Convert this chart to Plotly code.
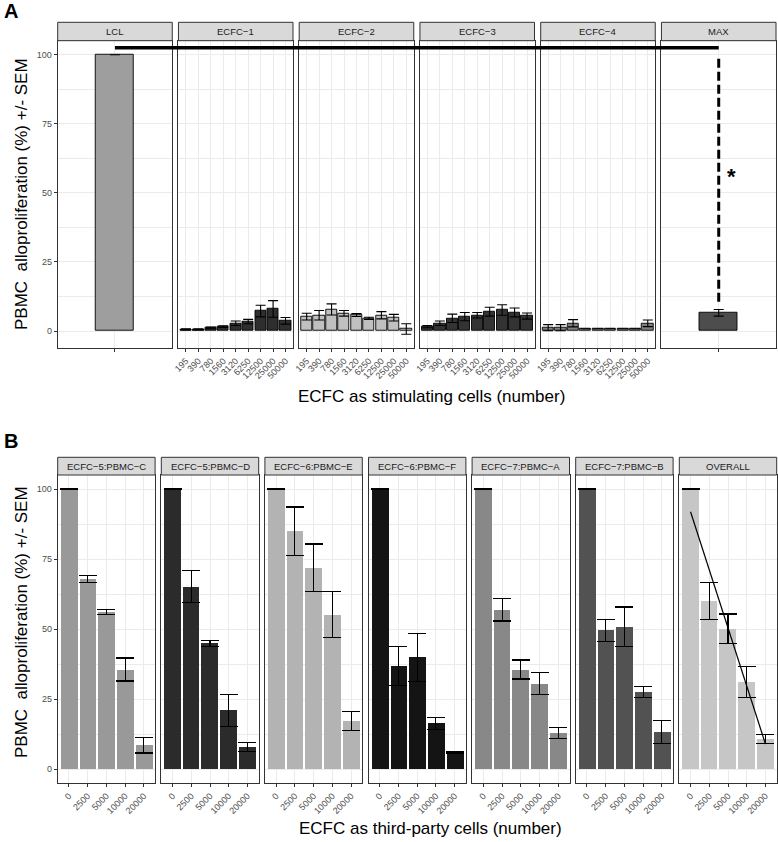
import numpy as np
import plotly.graph_objects as go

# ---------------- DATA ----------------
# Panel A
a_facets = ["LCL", "ECFC−1", "ECFC−2", "ECFC−3", "ECFC−4", "MAX"]
a_doses = ["195", "390", "780", "1560", "3120", "6250", "12500", "25000", "50000"]
lcl_mean = [100.0]
lcl_sem = [0.0]
ecfc1_mean = [0.6, 0.6, 1.1, 1.6, 2.8, 3.4, 7.2, 8.0, 3.7]
ecfc1_sem = [0.2, 0.2, 0.3, 0.3, 0.8, 0.8, 2.1, 3.0, 1.2]
ecfc2_mean = [5.2, 5.7, 7.8, 6.4, 5.8, 4.6, 5.7, 4.8, 0.7]
ecfc2_sem = [1.2, 1.7, 2.0, 1.0, 0.5, 0.4, 1.3, 1.2, 1.9]
ecfc3_mean = [1.6, 2.8, 4.6, 5.2, 5.7, 7.0, 7.6, 6.7, 5.4]
ecfc3_sem = [0.4, 0.8, 1.5, 1.5, 1.0, 1.6, 1.9, 1.6, 1.1]
ecfc4_mean = [1.2, 1.2, 2.8, 0.8, 0.8, 0.8, 0.8, 0.8, 2.8]
ecfc4_sem = [1.1, 1.1, 1.3, 0.0, 0.0, 0.0, 0.0, 0.0, 1.2]
max_mean = [6.6]
max_sem = [1.2]
a_colors = ["#9e9e9e", "#2e2e2e", "#c0c0c0", "#333333", "#7f7f7f", "#4d4d4d"]

# significance annotation (panel A)
sig_bar_y = 102.5
sig_dash_top = 98.5
sig_dash_bottom = 10.0
sig_star_y = 55.8
sig_label = "*"

# Panel B
b_facets = ["ECFC−5:PBMC−C", "ECFC−5:PBMC−D", "ECFC−6:PBMC−E", "ECFC−6:PBMC−F",
            "ECFC−7:PBMC−A", "ECFC−7:PBMC−B", "OVERALL"]
b_doses = ["0", "2500", "5000", "10000", "20000"]
c5c_mean = [100.0, 67.8, 56.2, 35.6, 8.6]
c5c_sem = [0.0, 1.2, 0.9, 4.1, 2.8]
c5d_mean = [100.0, 65.2, 44.9, 21.0, 7.9]
c5d_sem = [0.0, 5.8, 1.1, 5.6, 1.5]
c6e_mean = [100.0, 84.9, 71.9, 55.2, 17.2]
c6e_sem = [0.0, 8.7, 8.5, 8.3, 3.4]
c6f_mean = [100.0, 36.9, 39.9, 16.4, 6.1]
c6f_sem = [0.0, 7.0, 8.6, 2.2, 0.3]
c7a_mean = [100.0, 56.9, 35.6, 30.6, 13.0]
c7a_sem = [0.0, 4.0, 3.4, 3.9, 2.0]
c7b_mean = [100.0, 49.6, 50.9, 27.6, 13.3]
c7b_sem = [0.0, 4.0, 7.0, 2.0, 4.1]
overall_mean = [100.0, 60.1, 50.1, 31.1, 10.9]
overall_sem = [0.0, 6.7, 5.3, 5.5, 1.6]
b_colors = ["#999999", "#2b2b2b", "#b3b3b3", "#141414", "#888888", "#525252", "#c6c6c6"]

y_ticks = [0, 25, 50, 75, 100]
y_minor = [12.5, 37.5, 62.5, 87.5]

y_title = "PBMC  alloproliferation (%) +/- SEM"
a_xtitle = "ECFC as stimulating cells (number)"
b_xtitle = "ECFC as third-party cells (number)"

# ---------------- LAYOUT GEOMETRY ----------------
W, H = 778, 842
FONT = "Liberation Sans, Arial, Helvetica, sans-serif"


def fx(p):
    return p / W


def fy(p):
    return 1 - p / H


def panel_x(left, right, n, gap):
    w = (right - left - (n - 1) * gap) / n
    return [(left + i * (w + gap), left + i * (w + gap) + w) for i in range(n)]


A_px = panel_x(57.7, 776.0, 6, 6.2)
B_px = panel_x(57.7, 776.7, 7, 6.2)
A_top, A_bot, A_strip = 40.7, 348.3, 22.3
B_top, B_bot, B_strip = 475.0, 783.3, 457.3

A_yrange = [-6.26, 105.06]
B_yrange = [-5.0, 105.0]

fig = go.Figure()
layout = dict(
    template="none",
    width=W, height=H,
    margin=dict(l=0, r=0, t=0, b=0, pad=0),
    paper_bgcolor="white", plot_bgcolor="white",
    showlegend=False,
    font=dict(family=FONT, color="#1a1a1a"),
    bargap=0,
)
shapes = []
annotations = []

a_means = [lcl_mean, ecfc1_mean, ecfc2_mean, ecfc3_mean, ecfc4_mean, max_mean]
a_sems = [lcl_sem, ecfc1_sem, ecfc2_sem, ecfc3_sem, ecfc4_sem, max_sem]
b_means = [c5c_mean, c5d_mean, c6e_mean, c6f_mean, c7a_mean, c7b_mean, overall_mean]
b_sems = [c5c_sem, c5d_sem, c6e_sem, c6f_sem, c7a_sem, c7b_sem, overall_sem]

GRID = "#ebebeb"
BORDER = "#333333"
TICKFONT = dict(family=FONT, size=9, color="#4d4d4d")


def add_panel(idx, xdom, ydom, yrange, labels, means, sems, color, width, outlined,
              cap, first, title, strip_top, strip_bot):
    name = "" if idx == 1 else str(idx)
    n = len(means)
    xs = list(range(1, n + 1))
    fig.add_trace(go.Bar(
        x=xs, y=means, width=width,
        marker=dict(color=color,
                    line=dict(color="#000000" if outlined else "rgba(0,0,0,0)",
                              width=0.9 if outlined else 0)),
        error_y=dict(type="data", array=sems, visible=True, color="#000000",
                     thickness=1.1, width=cap),
        xaxis="x" + name, yaxis="y" + name, hoverinfo="skip",
    ))
    layout["xaxis" + name] = dict(
        domain=[fx(xdom[0]), fx(xdom[1])], anchor="y" + name, automargin=False,
        range=[0.4, n + 0.6], tickvals=xs, ticktext=labels,
        tickangle=-45 if n > 1 else 0, tickfont=TICKFONT,
        ticks="outside", ticklen=3, tickcolor=BORDER, tickwidth=1,
        showgrid=True, gridcolor=GRID, gridwidth=1,
        showline=True, linecolor=BORDER, linewidth=1, mirror=True,
        zeroline=False, fixedrange=True,
    )
    layout["yaxis" + name] = dict(
        domain=[fy(ydom[1]), fy(ydom[0])], anchor="x" + name, automargin=False,
        range=yrange, tickvals=y_ticks,
        showticklabels=first, tickfont=TICKFONT,
        ticks="outside" if first else "", ticklen=3, tickcolor=BORDER, tickwidth=1,
        showgrid=True, gridcolor=GRID, gridwidth=1,
        minor=dict(tickvals=y_minor, showgrid=True, gridcolor=GRID, gridwidth=0.5),
        showline=True, linecolor=BORDER, linewidth=1, mirror=True,
        zeroline=False, fixedrange=True,
    )
    shapes.append(dict(type="rect", xref="paper", yref="paper",
                       x0=fx(xdom[0]), x1=fx(xdom[1]), y0=fy(strip_bot), y1=fy(strip_top),
                       fillcolor="#d9d9d9", line=dict(color=BORDER, width=1), layer="above"))
    annotations.append(dict(text=title, xref="paper", yref="paper",
                            x=fx((xdom[0] + xdom[1]) / 2), y=fy((strip_top + strip_bot) / 2),
                            showarrow=False, xanchor="center", yanchor="middle",
                            font=dict(family=FONT, size=9.5, color="#1a1a1a")))


idx = 1
for i, facet in enumerate(a_facets):
    n = len(a_means[i])
    labels = a_doses if n > 1 else [""]
    add_panel(idx, A_px[i], (A_top, A_bot), A_yrange, labels, a_means[i], a_sems[i],
              a_colors[i], 0.9 if n > 1 else 0.4, True, 5, i == 0, facet, A_strip, A_top)
    idx += 1
lcl_idx, max_idx = 1, idx - 1

for i, facet in enumerate(b_facets):
    add_panel(idx, B_px[i], (B_top, B_bot), B_yrange, b_doses, b_means[i], b_sems[i],
              b_colors[i], 0.9, False, 9, i == 0, facet, B_strip, B_top)
    idx += 1
overall_idx = idx - 1

# trend line on OVERALL (least-squares fit of the means)
xo = np.arange(1, len(overall_mean) + 1)
slope, intercept = np.polyfit(xo, overall_mean, 1)
fig.add_trace(go.Scatter(
    x=[xo[0], xo[-1]], y=[intercept + slope * xo[0], intercept + slope * xo[-1]],
    mode="lines", line=dict(color="#000000", width=1.2),
    xaxis="x" + str(overall_idx), yaxis="y" + str(overall_idx), hoverinfo="skip"))

# significance bracket in panel A
lcl_cx = fx((A_px[0][0] + A_px[0][1]) / 2)
max_cx = fx((A_px[-1][0] + A_px[-1][1]) / 2)
shapes.append(dict(type="line", xref="paper", yref="y", x0=lcl_cx, x1=max_cx,
                   y0=sig_bar_y, y1=sig_bar_y, line=dict(color="#000000", width=3.5)))
mx = "x" + str(max_idx)
my = "y" + str(max_idx)
shapes.append(dict(type="line", xref=mx, yref=my, x0=1, x1=1,
                   y0=sig_dash_top, y1=sig_dash_bottom,
                   line=dict(color="#000000", width=3, dash="9px,4px")))
annotations.append(dict(text="<b>" + sig_label + "</b>", xref=mx, yref=my, x=1.135, y=sig_star_y,
                        showarrow=False, font=dict(family=FONT, size=22, color="#000000"),
                        xanchor="center", yanchor="middle"))

# axis titles & panel labels
annotations += [
    dict(text=y_title, xref="paper", yref="paper", x=fx(21.5), y=fy(194.5), textangle=-90,
         showarrow=False, font=dict(family=FONT, size=17, color="#000000"),
         xanchor="center", yanchor="middle"),
    dict(text=y_title, xref="paper", yref="paper", x=fx(21.5), y=fy(622.5), textangle=-90,
         showarrow=False, font=dict(family=FONT, size=17, color="#000000"),
         xanchor="center", yanchor="middle"),
    dict(text=a_xtitle, xref="paper", yref="paper", x=fx(431), y=fy(396),
         showarrow=False, font=dict(family=FONT, size=17, color="#000000"),
         xanchor="center", yanchor="middle"),
    dict(text=b_xtitle, xref="paper", yref="paper", x=fx(430), y=fy(828),
         showarrow=False, font=dict(family=FONT, size=17, color="#000000"),
         xanchor="center", yanchor="middle"),
    dict(text="<b>A</b>", xref="paper", yref="paper", x=fx(2), y=fy(11.5),
         showarrow=False, font=dict(family=FONT, size=20, color="#000000"),
         xanchor="left", yanchor="middle"),
    dict(text="<b>B</b>", xref="paper", yref="paper", x=fx(2), y=fy(441),
         showarrow=False, font=dict(family=FONT, size=20, color="#000000"),
         xanchor="left", yanchor="middle"),
]

layout["shapes"] = shapes
layout["annotations"] = annotations
fig.update_layout(**layout)
fig.write_html("out.html", config={"displayModeBar": False},
               post_script="document.body.style.margin='0px';")
